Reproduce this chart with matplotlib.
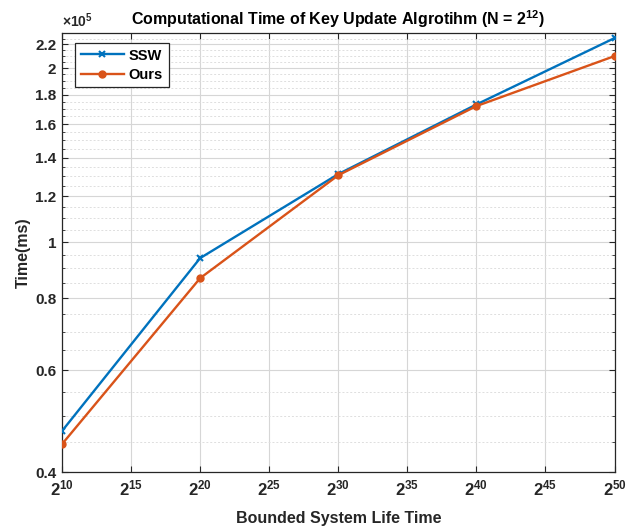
import matplotlib
matplotlib.use("Agg")
import matplotlib.pyplot as plt
from matplotlib.ticker import FixedLocator, NullFormatter, NullLocator

plt.rcParams['font.family'] = ['Liberation Sans', 'DejaVu Sans']
plt.rcParams['mathtext.fontset'] = 'custom'
plt.rcParams['mathtext.rm'] = 'Liberation Sans:bold'
plt.rcParams['mathtext.bf'] = 'Liberation Sans:bold'
plt.rcParams['mathtext.it'] = 'Liberation Sans:bold'

exponents = [10, 20, 30, 40, 50]
ssw = [0.471, 0.938, 1.311, 1.73, 2.254]   # x1e5 ms
ours = [0.447, 0.866, 1.305, 1.719, 2.098]  # x1e5 ms
xtick_exps = [10, 15, 20, 25, 30, 35, 40, 45, 50]
ytick_vals = [0.4, 0.6, 0.8, 1, 1.2, 1.4, 1.6, 1.8, 2, 2.2]
ytick_labels = ['0.4', '0.6', '0.8', '1', '1.2', '1.4', '1.6', '1.8', '2', '2.2']

blue = '#0072BD'
orange = '#D95319'

fig = plt.figure(figsize=(6.27, 5.30), dpi=100)
ax = fig.add_axes([0.0989, 0.1094, 0.9801 - 0.0989, 0.9377 - 0.1094])

xs = [2.0 ** e for e in exponents]
ax.plot(xs, ssw, color=blue, lw=1.7, marker='x', ms=5, mew=1.5, label='SSW', zorder=3)
ax.plot(xs, ours, color=orange, lw=1.7, marker='o', ms=5, label='Ours', zorder=3)

ax.set_xscale('log', base=2)
ax.set_yscale('log')
ax.set_xlim(2.0 ** 10, 2.0 ** 50)
ax.set_ylim(0.4, 2.3)

ax.xaxis.set_major_locator(FixedLocator([2.0 ** e for e in xtick_exps]))
ax.set_xticklabels([r'$\mathbf{2^{%d}}$' % e for e in xtick_exps])
ax.xaxis.set_minor_locator(NullLocator())

ax.yaxis.set_major_locator(FixedLocator(ytick_vals))
ax.set_yticklabels(ytick_labels)
minor_y = [round(0.4 + 0.05 * i, 2) for i in range(0, 39)]
minor_y = [v for v in minor_y if v <= 2.3 and all(abs(v - t) > 1e-6 for t in ytick_vals)]
ax.yaxis.set_minor_locator(FixedLocator(minor_y))
ax.yaxis.set_minor_formatter(NullFormatter())

ax.tick_params(which='both', direction='in', top=True, right=True, colors='#262626')
ax.tick_params(which='major', length=4, width=0.8, labelsize=11, pad=4)
ax.tick_params(which='minor', length=2, width=0.6)
for lab in ax.get_yticklabels():
    lab.set_fontweight('bold')
ax.tick_params(axis='x', labelsize=12, pad=5)

ax.grid(which='major', color='#d6d6d6', lw=0.8, ls='-')
ax.grid(which='minor', axis='y', color='#dedede', lw=0.7, ls=(0, (2, 2)))
ax.set_axisbelow(True)

for sp in ax.spines.values():
    sp.set_color('#262626')
    sp.set_linewidth(0.9)

ax.set_title('Computational Time of Key Update Algrotihm (N = $\\mathbf{2^{12}}$)',
             fontsize=11.5, fontweight='bold', color='black', pad=6)
ax.set_xlabel('Bounded System Life Time', fontsize=11.5, fontweight='bold', color='#262626', labelpad=9)
ax.set_ylabel('Time(ms)', fontsize=11.5, fontweight='bold', color='#262626', labelpad=3)

ax.text(0.0, 1.008, r'$\times\mathbf{10^{5}}$', transform=ax.transAxes, fontsize=10,
        ha='left', va='bottom', color='#262626')

leg = ax.legend(loc='upper left', bbox_to_anchor=(0.023, 0.978), fancybox=False, framealpha=1,
                edgecolor='#262626', fontsize=10.5, handlelength=3.0, borderpad=0.4,
                labelspacing=0.35, handletextpad=0.3, borderaxespad=0)
for t in leg.get_texts():
    t.set_fontweight('bold')
leg.get_frame().set_linewidth(0.9)

fig.savefig('out.png', dpi=100)
